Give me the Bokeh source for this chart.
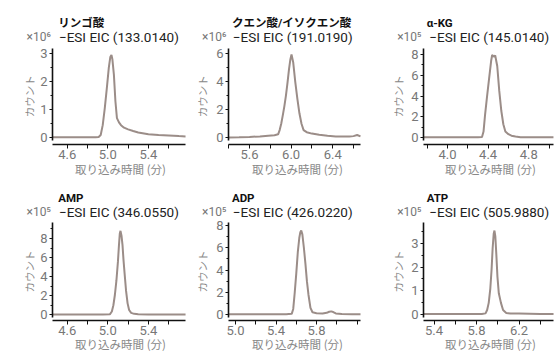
import math
from bokeh.plotting import figure
from bokeh.layouts import column, row
from bokeh.models import FixedTicker, Label, Range1d, PrintfTickFormatter
from bokeh.embed import file_html
from bokeh.resources import INLINE

# ---------------- data ----------------
names = ["リンゴ酸", "クエン酸/イソクエン酸", "α-KG", "AMP", "ADP", "ATP"]
eic_labels = ["−ESI EIC (133.0140)", "−ESI EIC (191.0190)", "−ESI EIC (145.0140)",
              "−ESI EIC (346.0550)", "−ESI EIC (426.0220)", "−ESI EIC (505.9880)"]
scale_labels = ["×10⁶", "×10⁶", "×10⁵", "×10⁵", "×10⁵", "×10⁵"]
x_axis_label = "取り込み時間 (分)"
y_axis_label = "カウント"

malate_time = [4.455, 4.6, 4.75, 4.88, 4.91, 4.93, 4.95, 4.97, 4.99, 5.01, 5.025, 5.036, 5.045,
               5.06, 5.075, 5.09, 5.11, 5.13, 5.16, 5.2, 5.25, 5.3, 5.4, 5.5, 5.6, 5.7, 5.766]
malate_counts = [0.02, 0.02, 0.02, 0.02, 0.03, 0.1, 0.45, 1.05, 1.75, 2.5, 2.88, 2.95, 2.8,
                 2.25, 1.3, 0.7, 0.55, 0.45, 0.36, 0.3, 0.24, 0.19, 0.13, 0.1, 0.08, 0.06, 0.05]

citrate_time = [5.398, 5.5, 5.6, 5.7, 5.78, 5.84, 5.875, 5.89, 5.905, 5.92, 5.935, 5.95, 5.965,
                5.98, 5.993, 6.004, 6.02, 6.04, 6.06, 6.08, 6.1, 6.12, 6.15, 6.2, 6.27, 6.35,
                6.43, 6.5, 6.56, 6.6, 6.635, 6.667]
citrate_counts = [0.03, 0.04, 0.06, 0.1, 0.15, 0.18, 0.25, 0.55, 1.0, 1.6, 2.25, 3.0, 3.9,
                  4.9, 5.6, 5.95, 5.4, 4.0, 2.8, 1.75, 1.0, 0.55, 0.4, 0.3, 0.21, 0.14,
                  0.1, 0.1, 0.09, 0.12, 0.2, 0.1]

akg_time = [3.764, 3.9, 4.1, 4.3, 4.34, 4.355, 4.37, 4.39, 4.41, 4.43, 4.44, 4.455, 4.47, 4.49,
            4.51, 4.53, 4.55, 4.57, 4.6, 4.63, 4.67, 4.72, 4.8, 4.9, 5.044]
akg_counts = [0.05, 0.05, 0.05, 0.05, 0.08, 0.6, 2.2, 4.0, 5.7, 7.4, 7.95, 7.8, 7.9, 6.9,
              4.5, 2.6, 1.3, 0.6, 0.35, 0.2, 0.12, 0.06, 0.05, 0.05, 0.05]

amp_time = [4.455, 4.6, 4.8, 4.95, 5.02, 5.04, 5.055, 5.07, 5.085, 5.1, 5.11, 5.118, 5.125,
            5.135, 5.145, 5.155, 5.165, 5.18, 5.195, 5.21, 5.23, 5.26, 5.3, 5.4, 5.55, 5.766]
amp_counts = [0.03, 0.03, 0.03, 0.03, 0.05, 0.35, 1.0, 2.1, 3.6, 5.6, 7.3, 8.5, 8.8,
              8.3, 7.3, 5.7, 4.4, 2.5, 1.2, 0.5, 0.2, 0.1, 0.06, 0.04, 0.03, 0.03]

adp_time = [4.931, 5.1, 5.3, 5.5, 5.555, 5.57, 5.585, 5.6, 5.615, 5.63, 5.64, 5.649, 5.66, 5.675,
            5.69, 5.705, 5.72, 5.74, 5.76, 5.8, 5.86, 5.9, 5.925, 5.945, 5.965, 5.99, 6.05,
            6.15, 6.234]
adp_counts = [0.03, 0.03, 0.03, 0.03, 0.06, 0.5, 2.0, 3.7, 5.6, 6.9, 7.4, 7.55, 7.2, 6.0,
              4.6, 3.0, 1.8, 0.6, 0.2, 0.12, 0.1, 0.15, 0.25, 0.28, 0.22, 0.1, 0.04,
              0.03, 0.03]

atp_time = [5.301, 5.5, 5.7, 5.85, 5.885, 5.9, 5.915, 5.93, 5.942, 5.952, 5.962, 5.969, 5.977,
            5.987, 5.997, 6.01, 6.03, 6.05, 6.08, 6.12, 6.2, 6.3, 6.4, 6.525]
atp_counts = [0.03, 0.03, 0.03, 0.03, 0.06, 0.2, 0.5, 1.1, 1.9, 2.8, 3.4, 3.53, 3.3,
              2.5, 1.6, 0.9, 0.5, 0.2, 0.08, 0.05, 0.05, 0.04, 0.03, 0.03]

x_tick_labels = [[4.6, 5.0, 5.4], [5.6, 6.0, 6.4], [4.0, 4.4, 4.8],
                 [4.6, 5.0, 5.4], [5.0, 5.4, 5.8], [5.4, 5.8, 6.2]]
x_minor_ticks = [[4.8, 5.2, 5.6], [5.4, 5.8, 6.2, 6.6], [3.8, 4.2, 4.6, 5.0],
                 [4.8, 5.2, 5.6], [5.2, 5.6, 6.0, 6.2], [5.6, 6.0, 6.4]]
y_tick_labels = [[0, 1, 2, 3], [0, 2, 4, 6], [0, 2, 4, 6, 8],
                 [0, 2, 4, 6, 8], [0, 2, 4, 6, 8], [0, 1, 2, 3]]

series = [(malate_time, malate_counts), (citrate_time, citrate_counts), (akg_time, akg_counts),
          (amp_time, amp_counts), (adp_time, adp_counts), (atp_time, atp_counts)]

# ---------------- layout geometry (page pixels) ----------------
col_left = [0, 188, 385]
col_w = [188, 197, 169]
col_frame = [(52, 185), (228, 360), (423, 553)]
row_top = [0, 176]
row_h = [176, 175]
row_frame = [(47.5, 144), (222, 320)]
# axis calibration: (tick value, page x of that tick, px per minute)
x_cal = [(4.6, 66.7, 101.5), (5.6, 249.0, 104.0), (4.0, 447.0, 101.5),
         (4.6, 66.7, 101.5), (5.0, 235.0, 101.3), (5.4, 433.5, 106.25)]
# (page y of zero, px per unit)
y_cal = [(137.3, 28.1), (137.3, 14.0), (137.3, 10.41),
         (314.3, 9.54), (314.0, 11.125), (314.3, 23.87)]
title_dx = [5.8, 3.4, 3.2]
scale_dx = [-26.0, -26.5, -26.3]
sub_dx = [66.4, 64.2, 65.7]
ylab_dx = [-22.8, -26.0, -24.7]
xlab_dx = [68.0, 69.0, 67.0]
title_y = [22.0, 197.0]
sub_y = [36.8, 211.0]
xlab_y = [168.5, 343.0]

LINE = "#9b8d88"
GRAY = "#777777"
LGRAY = "#888888"
LAT = "Roboto, 'Noto Sans CJK JP'"
CJK = "'Noto Sans CJK JP'"

figs = []
for i in range(6):
    r, c = divmod(i, 3)
    v0, p0, sx = x_cal[i]
    z0, sy = y_cal[i]

    def X(px):
        return v0 + (px - p0) / sx

    def Y(py):
        return (z0 - py) / sy

    L, W = col_left[c], col_w[c]
    T, H = row_top[r], row_h[r]
    fl, fr = col_frame[c]
    ft, fb = row_frame[r]

    p = figure(width=W, height=H, x_range=Range1d(X(L), X(L + W)), y_range=Range1d(Y(T + H), Y(T)),
               output_backend="svg", toolbar_location=None, title=None,
               min_border_left=0, min_border_right=0, min_border_top=0, min_border_bottom=0)
    p.outline_line_color = None
    p.xgrid.visible = False
    p.ygrid.visible = False
    p.background_fill_color = "white"
    p.border_fill_color = "white"

    t, v = series[i]
    p.line(t, v, line_color=LINE, line_width=2)

    yt = y_tick_labels[i]
    ystep = yt[1] - yt[0]
    yminor = [k + ystep / 2 for k in yt if k + ystep / 2 < Y(ft)]
    ya = p.yaxis[0]
    ya.fixed_location = X(fl)
    ya.ticker = FixedTicker(ticks=yt, minor_ticks=yminor)
    ya.formatter = PrintfTickFormatter(format="%d")
    ya.bounds = (Y(z0 + 2.5), Y(ft))
    ya.axis_line_color = "#111111"
    ya.axis_line_width = 1.6
    ya.major_tick_line_color = "#111111"
    ya.minor_tick_line_color = "#111111"
    ya.major_tick_out = 3
    ya.major_tick_in = 0
    ya.minor_tick_out = 2
    ya.minor_tick_in = 0
    ya.major_label_standoff = 2
    ya.major_label_text_font = LAT
    ya.major_label_text_font_size = "13px"
    ya.major_label_text_color = GRAY

    xa = p.xaxis[0]
    xa.fixed_location = Y(fb)
    xa.bounds = (X(fl), X(fr))
    xa.ticker = FixedTicker(ticks=x_tick_labels[i], minor_ticks=x_minor_ticks[i])
    xa.formatter = PrintfTickFormatter(format="%.1f")
    xa.axis_line_color = "#111111"
    xa.axis_line_width = 1.6
    xa.major_tick_line_color = "#111111"
    xa.minor_tick_line_color = "#111111"
    xa.major_tick_out = 4
    xa.major_tick_in = 0
    xa.minor_tick_out = 4
    xa.minor_tick_in = 0
    xa.major_label_standoff = 1
    xa.major_label_text_font = LAT
    xa.major_label_text_font_size = "13px"
    xa.major_label_text_color = GRAY

    p.add_layout(Label(x=X(fl + title_dx[c]), y=Y(title_y[r]), text=names[i],
                       text_font=LAT, text_font_style="bold", text_font_size="11.5px",
                       text_color="#111111", text_baseline="middle", text_align="left"))
    p.add_layout(Label(x=X(fl + scale_dx[c]), y=Y(sub_y[r]), text=scale_labels[i],
                       text_font=LAT, text_font_size="12px", text_color=GRAY,
                       text_baseline="middle", text_align="left"))
    p.add_layout(Label(x=X(fl + sub_dx[c]), y=Y(sub_y[r]), text=eic_labels[i],
                       text_font=LAT, text_font_size="13.5px", text_color="#222222",
                       text_baseline="middle", text_align="center"))
    p.add_layout(Label(x=X(fl + xlab_dx[c]), y=Y(xlab_y[r]), text=x_axis_label,
                       text_font=CJK, text_font_size="11.5px", text_color=LGRAY,
                       text_baseline="middle", text_align="center"))
    p.add_layout(Label(x=X(fl + ylab_dx[c]), y=Y((ft + fb) / 2), text=y_axis_label,
                       angle=math.pi / 2, text_font=CJK, text_font_size="10.5px",
                       text_color=LGRAY, text_baseline="middle", text_align="center"))
    figs.append(p)

layout = column(row(figs[0], figs[1], figs[2]), row(figs[3], figs[4], figs[5]))
open("out.html", "w").write(file_html(layout, INLINE))
